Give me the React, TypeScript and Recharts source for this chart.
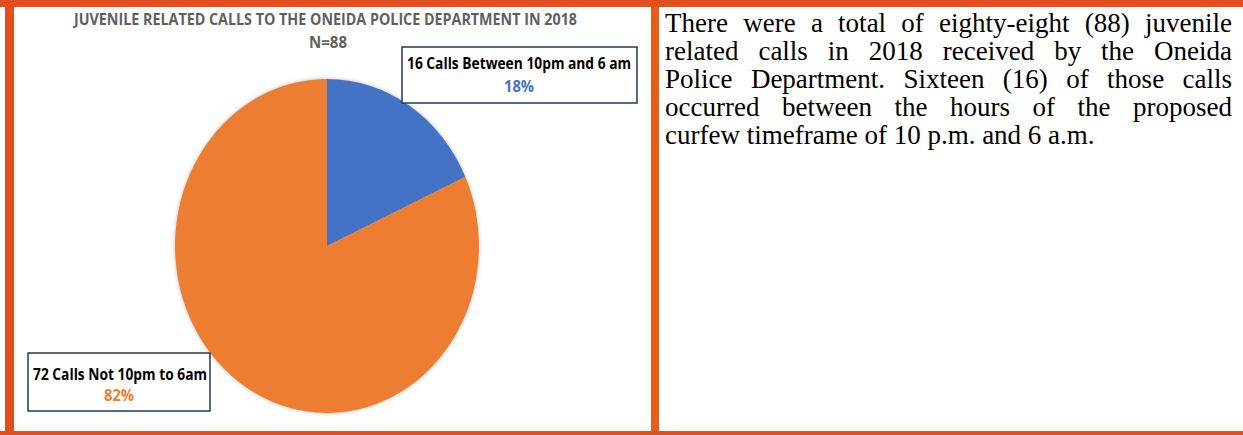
import React from 'react';
import { PieChart, Pie, Cell } from 'recharts';

// ---- data ----
const categories = ['16 Calls Between 10pm and 6 am', '72 Calls Not 10pm to 6am'];
const callCounts = [16, 72];
const sliceColors = ['#4472C4', '#ED7D31'];
const chartTitle = 'JUVENILE RELATED CALLS TO THE ONEIDA POLICE DEPARTMENT IN 2018';
const paragraphLines = [
  'There were a total of eighty-eight (88) juvenile',
  'related calls in 2018 received by the Oneida',
  'Police Department. Sixteen (16) of those calls',
  'occurred between the hours of the proposed',
  'curfew timeframe of 10 p.m. and 6 a.m.',
];

const total = callCounts.reduce((a, b) => a + b, 0);
const pieData = categories.map((name, i) => ({ name, value: callCounts[i] }));
const pct = (v: number) => `${Math.round((v / total) * 100)}%`;

const FRAME = '#E24F1D';
const DIVIDER = '#E45E16';
const SY = 167 / 152; // vertical stretch of the picture
const LABEL_FONT = '"Liberation Sans Narrow", "Open Sans", Roboto, sans-serif';

export default function App() {
  return (
    <div
      style={{
        position: 'absolute',
        left: 0,
        top: 0,
        width: 1243,
        height: 435,
        background: '#fff',
        overflow: 'hidden',
      }}
    >
      {/* pie */}
      <div
        style={{
          position: 'absolute',
          left: 0,
          top: 0,
          width: 652,
          height: 396,
          transform: `scaleY(${SY})`,
          transformOrigin: '0 0',
          filter: 'drop-shadow(0px 0px 2px rgba(0,0,0,0.25))',
        }}
      >
        <PieChart width={652} height={396} margin={{ top: 0, right: 0, bottom: 0, left: 0 }}>
          <Pie
            data={pieData}
            dataKey="value"
            nameKey="name"
            cx={327}
            cy={246 / SY}
            outerRadius={152}
            startAngle={90}
            endAngle={-270}
            stroke="none"
            isAnimationActive={false}
          >
            {pieData.map((d, i) => (
              <Cell key={d.name} fill={sliceColors[i]} />
            ))}
          </Pie>
        </PieChart>
      </div>

      {/* title and labels */}
      <svg
        width={1243}
        height={435}
        style={{ position: 'absolute', left: 0, top: 0, pointerEvents: 'none' }}
      >
        <text
          x={74}
          y={25}
          textLength={503}
          lengthAdjust="spacingAndGlyphs"
          fontFamily={LABEL_FONT}
          fontSize={16}
          fontWeight="bold"
          fill="#5f5f5f"
        >
          {chartTitle}
        </text>
        <text
          x={309}
          y={48}
          textLength={38}
          lengthAdjust="spacingAndGlyphs"
          fontFamily={LABEL_FONT}
          fontSize={16}
          fontWeight="bold"
          fill="#5f5f5f"
        >
          {`N=${total}`}
        </text>

        {/* label box 1 */}
        <rect x={402} y={47} width={235} height={56} fill="#fff" stroke="#1F3864" strokeWidth={1.5} />
        <text
          x={407}
          y={69}
          textLength={224}
          lengthAdjust="spacingAndGlyphs"
          fontFamily={LABEL_FONT}
          fontSize={16}
          fontWeight="bold"
          fill="#000"
        >
          {categories[0]}
        </text>
        <text
          x={504}
          y={92}
          textLength={30}
          lengthAdjust="spacingAndGlyphs"
          fontFamily={LABEL_FONT}
          fontSize={16}
          fontWeight="bold"
          fill={sliceColors[0]}
        >
          {pct(callCounts[0])}
        </text>

        {/* label box 2 */}
        <rect x={28} y={353} width={182} height={58} fill="#fff" stroke="#1F3864" strokeWidth={1.5} />
        <text
          x={33}
          y={380}
          textLength={174}
          lengthAdjust="spacingAndGlyphs"
          fontFamily={LABEL_FONT}
          fontSize={16}
          fontWeight="bold"
          fill="#000"
        >
          {categories[1]}
        </text>
        <text
          x={104}
          y={401}
          textLength={30}
          lengthAdjust="spacingAndGlyphs"
          fontFamily={LABEL_FONT}
          fontSize={16}
          fontWeight="bold"
          fill={sliceColors[1]}
        >
          {pct(callCounts[1])}
        </text>
      </svg>

      {/* paragraph */}
      <div
        style={{
          position: 'absolute',
          left: 665,
          top: 9,
          width: 567,
          fontFamily: '"Liberation Serif", "Times New Roman", serif',
          fontSize: 27,
          lineHeight: '28px',
          color: '#000',
        }}
      >
        {paragraphLines.map((line, i) => (
          <div
            key={i}
            style={{
              textAlign: i === paragraphLines.length - 1 ? 'left' : 'justify',
              textAlignLast: i === paragraphLines.length - 1 ? 'left' : 'justify',
            }}
          >
            {line}
          </div>
        ))}
      </div>

      {/* frame */}
      <div style={{ position: 'absolute', left: 0, top: 0, width: 1243, height: 7, background: FRAME }} />
      <div style={{ position: 'absolute', left: 5, top: 0, width: 9, height: 435, background: FRAME }} />
      <div style={{ position: 'absolute', left: 0, top: 431, width: 1243, height: 4, background: FRAME }} />
      <div style={{ position: 'absolute', left: 651, top: 7, width: 8, height: 424, background: DIVIDER }} />
    </div>
  );
}
